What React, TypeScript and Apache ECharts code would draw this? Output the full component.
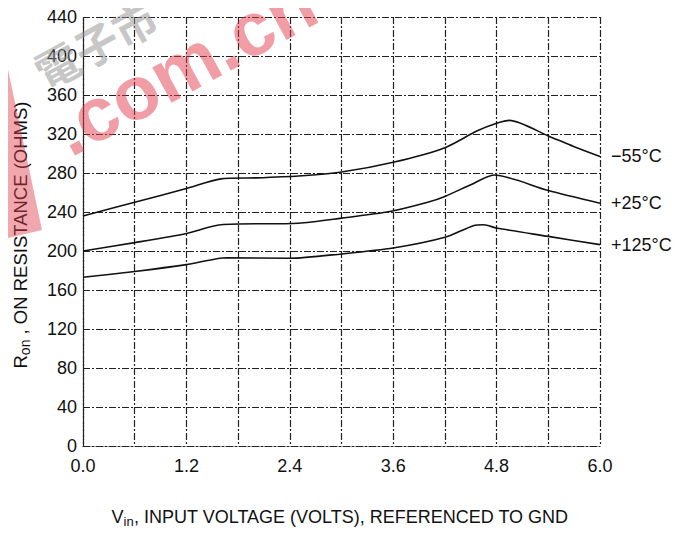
import React, { useEffect, useRef } from "react";
import * as echarts from "echarts";

const seriesNames = ["−55°C", "+25°C", "+125°C"];

const vinM55 = [0, 0.6, 1.2, 1.6, 2.0, 2.5, 3.0, 3.6, 4.2, 4.57, 4.8, 4.95, 5.4, 5.7, 6.0];
const ronM55 = [236, 250, 264, 274, 275, 277, 281, 291, 306, 323, 331, 334, 318, 307, 297];

const vinP25 = [0, 0.6, 1.2, 1.6, 2.5, 3.0, 3.56, 4.0, 4.2, 4.5, 4.77, 5.4, 6.0];
const ronP25 = [200, 208.6, 218, 227, 228.5, 233.7, 240.5, 250, 256, 268, 278, 262, 249];

const vinP125 = [0, 0.6, 1.2, 1.67, 2.4, 3.0, 3.6, 4.2, 4.53, 4.65, 4.8, 5.4, 6.0];
const ronP125 = [173, 179, 186, 193, 192.5, 197, 203, 214, 226, 227, 223.5, 215, 206.5];

const xMin = 0, xMax = 6.0, xStep = 0.6;
const yMin = 0, yMax = 440, yStep = 40;

const FONT = "'Liberation Sans', Arial, sans-serif";

function pairs(xs: number[], ys: number[]) {
  return xs.map((x, i) => [x, ys[i]]);
}

export default function App() {
  const ref = useRef<HTMLDivElement>(null);
  useEffect(() => {
    if (!ref.current) return;
    const chart = echarts.init(ref.current, null, { renderer: "svg" });
    const gridDash = [7, 2, 2, 2];
    const mk = (name: string, xs: number[], ys: number[]) => ({
      name,
      type: "line",
      data: pairs(xs, ys),
      smooth: 0.25,
      showSymbol: false,
      symbol: "none",
      lineStyle: { color: "#111", width: 1.6 },
      endLabel: {
        show: true,
        formatter: name,
        color: "#111",
        fontSize: 18,
        fontFamily: FONT,
        distance: 11,
      },
    });
    chart.setOption({
      animation: false,
      backgroundColor: "#fff",
      grid: { left: 75, right: 96, top: 5, bottom: 96, containLabel: false },
      xAxis: {
        type: "value",
        min: xMin,
        max: xMax,
        interval: xStep,
        axisLine: { show: true, onZero: false, lineStyle: { color: "#222", width: 1.2, type: gridDash } },
        axisTick: { show: false },
        axisLabel: {
          color: "#111",
          fontSize: 18,
          fontFamily: FONT,
          margin: 11,
          formatter: (v: number, i: number) => (i % 2 === 0 ? v.toFixed(1) : ""),
        },
        splitLine: { show: true, lineStyle: { color: "#222", width: 1.2, type: gridDash } },
      },
      yAxis: {
        type: "value",
        min: yMin,
        max: yMax,
        interval: yStep,
        axisLine: { show: true, lineStyle: { color: "#222", width: 1.2, type: gridDash } },
        axisTick: { show: false },
        axisLabel: { color: "#111", fontSize: 18, fontFamily: FONT, margin: 6 },
        splitLine: { show: true, lineStyle: { color: "#222", width: 1.2, type: gridDash } },
      },
      graphic: [
        {
          type: "text",
          x: 12,
          y: 227,
          rotation: Math.PI / 2,
          style: {
            text: "{m|R}{s|on}{m| , ON RESISTANCE (OHMS)}",
            align: "center",
            verticalAlign: "middle",
            fill: "#111",
            rich: {
              m: { fontSize: 18.5, fontFamily: FONT, fill: "#111" },
              s: { fontSize: 14, fontFamily: FONT, fill: "#111", padding: [9, 0, 0, 0] },
            },
          },
        },
        {
          type: "text",
          x: 332,
          y: 509,
          style: {
            text: "{m|V}{s|in}{m|, INPUT VOLTAGE (VOLTS), REFERENCED TO GND}",
            align: "center",
            verticalAlign: "middle",
            fill: "#111",
            rich: {
              m: { fontSize: 18, fontFamily: FONT, fill: "#111" },
              s: { fontSize: 13, fontFamily: FONT, fill: "#111", padding: [9, 0, 0, 0] },
            },
          },
        },
        {
          type: "text",
          x: 40,
          y: 86,
          rotation: 0.5,
          style: {
            text: "電子市",
            fontSize: 44,
            fontWeight: "bold",
            fontFamily: "'Noto Sans CJK TC', sans-serif",
            fill: "rgba(150,150,150,0.55)",
            align: "left",
            verticalAlign: "bottom",
          },
          z: 99,
        },
        {
          type: "text",
          x: 68,
          y: 160,
          rotation: 0.5,
          style: {
            text: ".com.cn",
            fontSize: 76,
            fontWeight: "bold",
            fontFamily: "'Liberation Sans', Arial, sans-serif",
            fill: "rgba(225,60,75,0.5)",
            align: "left",
            verticalAlign: "bottom",
          },
          z: 100,
        },
        {
          type: "polygon",
          shape: { points: [[-8, 58], [-2, 52], [34, 222], [-8, 232]] },
          style: { fill: "rgba(225,60,75,0.45)" },
          z: 100,
        },
      ],
      series: [
        mk(seriesNames[0], vinM55, ronM55),
        mk(seriesNames[1], vinP25, ronP25),
        mk(seriesNames[2], vinP125, ronP125),
      ],
    });
    return () => chart.dispose();
  }, []);
  return <div ref={ref} style={{ width: 688, height: 534 }} />;
}
